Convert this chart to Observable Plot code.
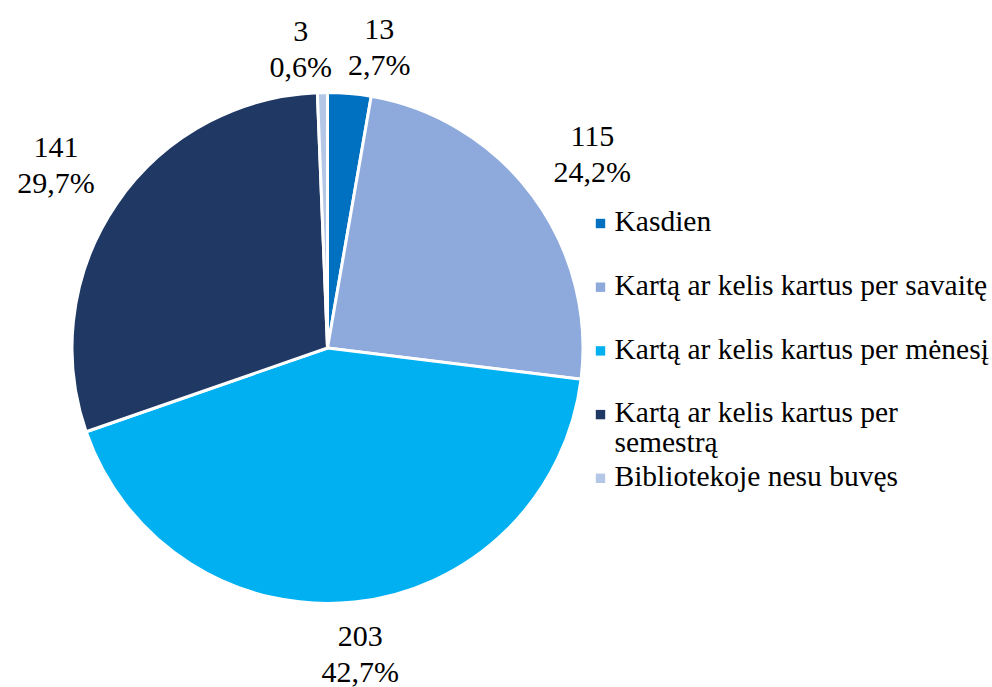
<!DOCTYPE html>
<html><head><meta charset="utf-8">
<script src="https://cdn.jsdelivr.net/npm/d3@7"></script>
<script src="https://cdn.jsdelivr.net/npm/@observablehq/plot@0.6"></script>
<style>body{margin:0;background:#fff}</style>
</head><body><div id="chart"></div>
<script>
const categories = ["Kasdien", "Kartą ar kelis kartus per savaitę", "Kartą ar kelis kartus per mėnesį", "Kartą ar kelis kartus per semestrą", "Bibliotekoje nesu buvęs"];
const counts = [13, 115, 203, 141, 3];
const colors = ["#0070C0", "#8EA9DB", "#00B0F0", "#203864", "#B4C7E7"];

const W = 992, H = 687;
const cx = 327.5, cy = 348, R = 255.5;
const labelFont = 30, labelLH = 1.2;
const legendFont = 29.5, legendLH = 1.0, legendX = 600, legendTop = 223, legendStep = 63.7, legendMaxW = 385;
const FONT = "Liberation Serif";

const ctx2d = document.createElement("canvas").getContext("2d");
function textW(s, size) { ctx2d.font = `${size}px "Liberation Serif"`; return ctx2d.measureText(s).width; }
function wrap(s, size, maxW) {
  const words = s.split(" "); const lines = []; let cur = "";
  for (const w of words) {
    const t = cur ? cur + " " + w : w;
    if (cur && textW(t, size) > maxW) { lines.push(cur); cur = w; } else cur = t;
  }
  lines.push(cur); return lines.join("\n");
}

const total = d3.sum(counts);
const data = categories.map((c, i) => ({category: c, count: counts[i], pct: counts[i] / total, color: colors[i]}));
const arcs = d3.pie().sort(null).value(d => d.count)(data);

// slice labels: value + percentage, placed outside the arc end
const fmtPct = p => d3.format(".1f")(p * 100).replace(".", ",") + "%";
let labels = arcs.map(a => {
  const m = (a.startAngle + a.endAngle) / 2;
  const s = Math.sin(m), c = -Math.cos(m);
  const pctText = fmtPct(a.data.pct);
  const w = Math.max(textW(String(a.data.count), labelFont), textW(pctText, labelFont));
  const h = 2 * labelFont * labelLH;
  const d = R + 9 + Math.abs(s) * (w / 2 + 15) + Math.abs(c) * h / 2;
  return {text: `${a.data.count}\n${pctText}`, x: cx + d * s, y: cy + d * c, w, h};
});
// push overlapping labels apart horizontally
const sorted = [...labels].sort((a, b) => a.x - b.x);
for (let i = 1; i < sorted.length; i++) {
  const a = sorted[i - 1], b = sorted[i];
  const need = (a.w + b.w) / 2 + 16;
  if (Math.abs(a.y - b.y) < a.h && b.x - a.x < need) {
    const mid = (a.x + b.x) / 2 + 2; a.x = mid - need / 2; b.x = mid + need / 2;
  }
}

const legend = data.map((d, i) => ({category: d.category, label: wrap(d.category, legendFont, legendMaxW), y: legendTop + i * legendStep}));

const pieMark = () => {
  const g = d3.create("svg:g").attr("transform", `translate(${cx},${cy})`);
  const arc = d3.arc().innerRadius(0).outerRadius(R);
  g.selectAll("path").data(arcs).join("path")
    .attr("d", arc).attr("fill", d => d.data.color)
    .attr("stroke", "#fff").attr("stroke-width", 3).attr("stroke-linejoin", "round");
  return g.node();
};

const chart = Plot.plot({
  width: W, height: H, margin: 0,
  x: {type: "identity", axis: null},
  y: {type: "identity", axis: null},
  color: {domain: categories, range: colors},
  marks: [
    pieMark,
    Plot.text(labels, {x: "x", y: "y", text: "text", fontSize: labelFont, fontFamily: FONT, lineHeight: labelLH, textAnchor: "middle", fill: "#000"}),
    Plot.dot(legend, {x: legendX, y: "y", symbol: "square", r: 5.3, fill: "category"}),
    Plot.text(legend, {x: legendX + 14, y: "y", text: "label", fontSize: legendFont, fontFamily: FONT, lineHeight: legendLH, textAnchor: "start", lineAnchor: "top", dy: -legendFont * 0.45, fill: "#000"})
  ]
});
document.getElementById("chart").append(chart);
</script>
</body></html>
